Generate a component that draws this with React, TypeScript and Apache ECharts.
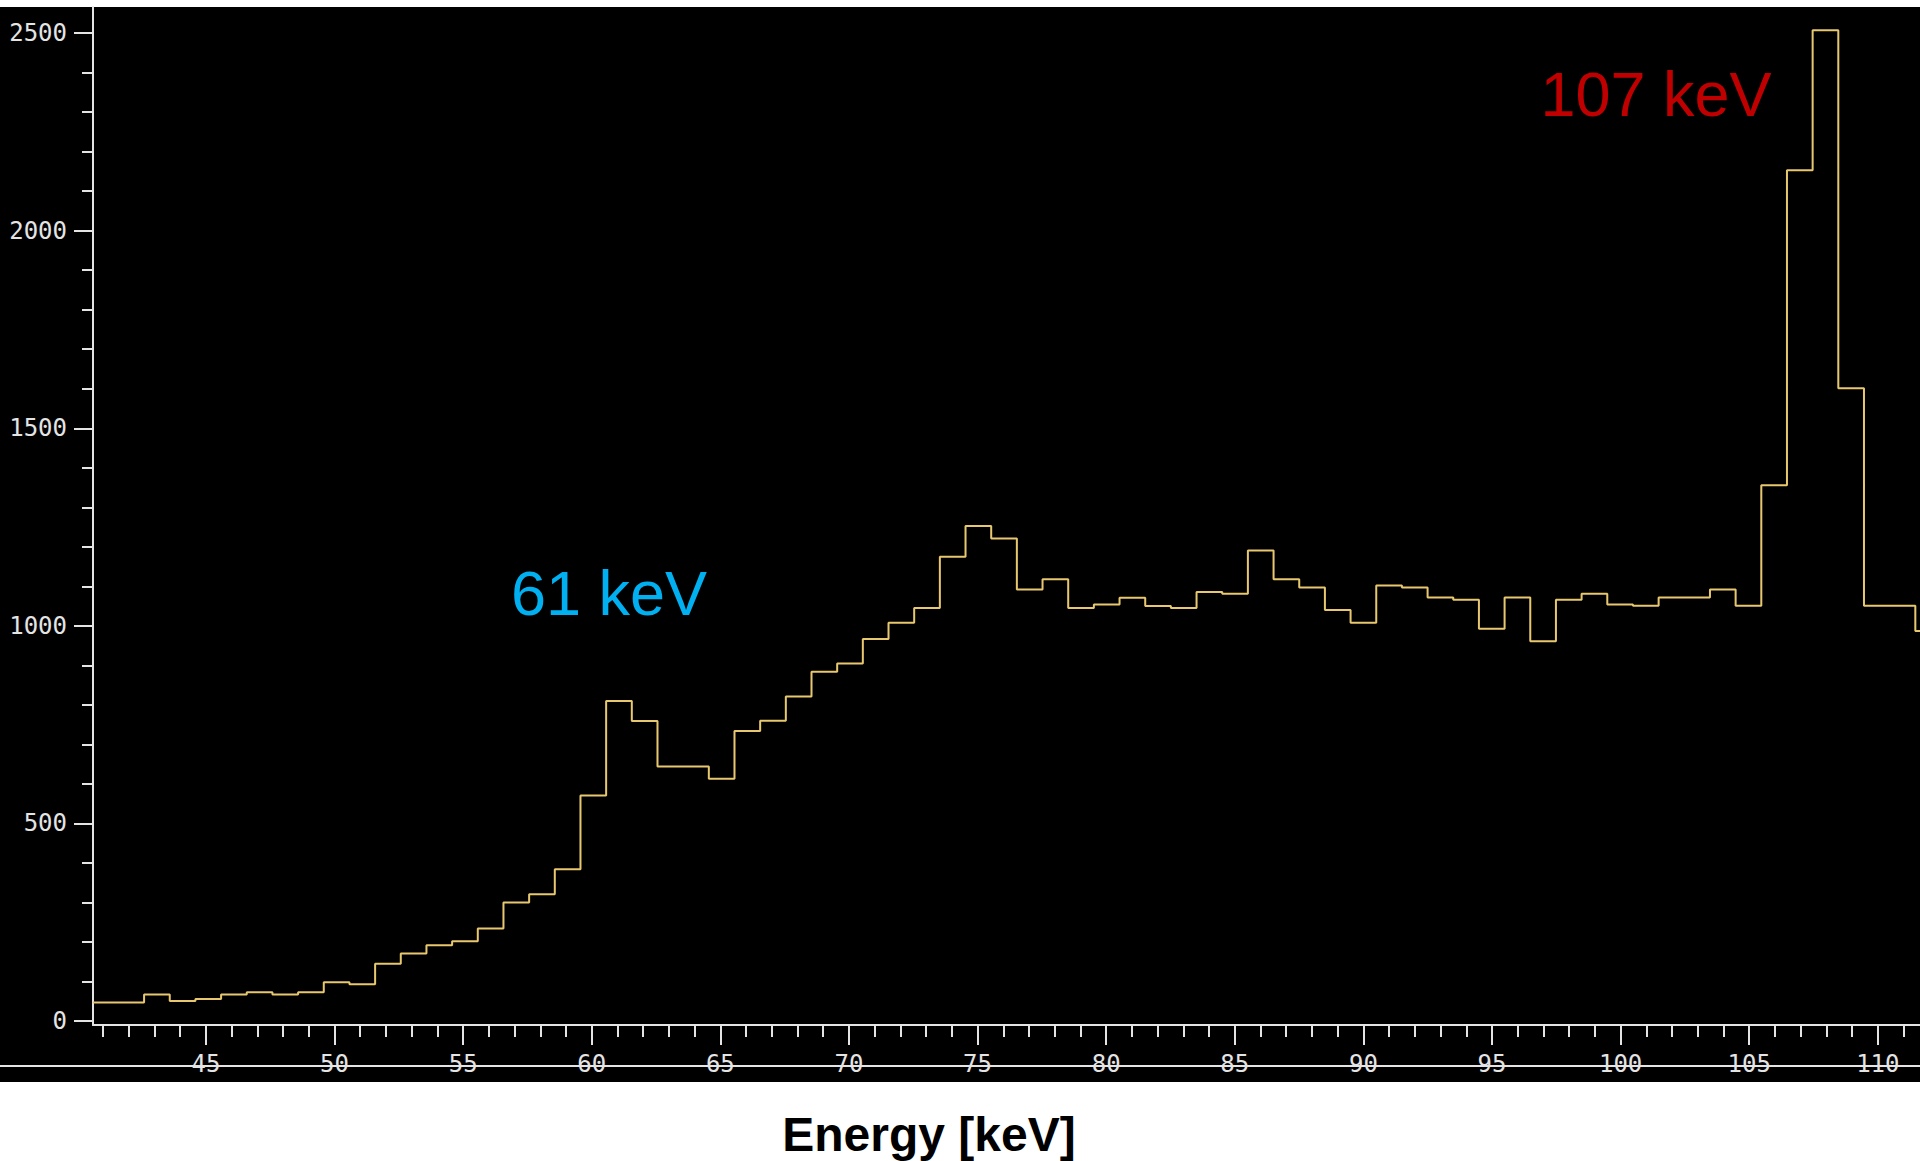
import { useEffect, useRef } from "react";
import * as echarts from "echarts";

// ---- data ----
const binStart = 40.6; // keV, lower edge of the first histogram bin
const binWidth = 0.998; // keV
const counts = [
  47, 47, 67, 51, 56, 67, 73, 67, 73, 98,
  93, 145, 171, 192, 202, 234, 300, 321, 384, 571,
  810, 759, 644, 644, 613, 734, 760, 821, 884, 905,
  967, 1008, 1045, 1175, 1253, 1221, 1092, 1118, 1045, 1054,
  1071, 1050, 1045, 1086, 1081, 1191, 1118, 1097, 1040, 1008,
  1102, 1097, 1072, 1066, 993, 1072, 961, 1066, 1081, 1054,
  1051, 1072, 1072, 1092, 1051, 1356, 2153, 2507, 1601, 1051,
  1051, 987,
];
const xRange = [40.61, 111.64];
const yRange = [-10, 2566];
const xMajorTicks = [45, 50, 55, 60, 65, 70, 75, 80, 85, 90, 95, 100, 105, 110];
const xMinorTicks = [
  41, 42, 43, 44, 45, 46, 47, 48, 49, 50, 51, 52, 53, 54, 55, 56, 57, 58, 59, 60,
  61, 62, 63, 64, 65, 66, 67, 68, 69, 70, 71, 72, 73, 74, 75, 76, 77, 78, 79, 80,
  81, 82, 83, 84, 85, 86, 87, 88, 89, 90, 91, 92, 93, 94, 95, 96, 97, 98, 99, 100,
  101, 102, 103, 104, 105, 106, 107, 108, 109, 110, 111,
];
const yMajorTicks = [0, 500, 1000, 1500, 2000, 2500];
const yMinorTicks = [
  0, 100, 200, 300, 400, 500, 600, 700, 800, 900, 1000, 1100, 1200, 1300, 1400,
  1500, 1600, 1700, 1800, 1900, 2000, 2100, 2200, 2300, 2400, 2500,
];
const peakLabels = ["61 keV", "107 keV"];
const xAxisTitle = "Energy [keV]";

export default function App() {
  const ref = useRef<HTMLDivElement>(null);

  useEffect(() => {
    if (!ref.current) return;
    const chart = echarts.init(ref.current, undefined, { renderer: "svg" });

    const histData: number[][] = counts.map((c, i) => [binStart + i * binWidth, c]);
    histData.push([binStart + counts.length * binWidth, counts[counts.length - 1]]);

    const axisColor = "#e4e4e4";
    const labelFont = {
      fontFamily: "DejaVu Sans Mono",
      fontSize: 24,
      color: axisColor,
      formatter: (v: number) => String(v),
    };
    const axisLineStyle = { color: axisColor, width: 2 };

    chart.setOption({
      animation: false,
      backgroundColor: "#ffffff",
      grid: {
        left: 93,
        right: 0,
        top: 7,
        bottom: 136,
        containLabel: false,
        outerBoundsMode: "none",
      },
      xAxis: [
        {
          type: "value",
          min: xRange[0],
          max: xRange[1],
          position: "bottom",
          axisLine: { show: true, onZero: false, lineStyle: axisLineStyle },
          axisTick: {
            show: true,
            customValues: xMajorTicks,
            length: 20,
            lineStyle: axisLineStyle,
          },
          axisLabel: { show: true, customValues: xMajorTicks, margin: 27, ...labelFont },
          splitLine: { show: false },
        },
        {
          type: "value",
          min: xRange[0],
          max: xRange[1],
          position: "bottom",
          axisLine: { show: false, onZero: false },
          axisTick: {
            show: true,
            customValues: xMinorTicks,
            length: 12,
            lineStyle: axisLineStyle,
          },
          axisLabel: { show: false },
          splitLine: { show: false },
        },
      ],
      yAxis: [
        {
          type: "value",
          min: yRange[0],
          max: yRange[1],
          position: "left",
          axisLine: { show: true, onZero: false, lineStyle: axisLineStyle },
          axisTick: {
            show: true,
            customValues: yMajorTicks,
            length: 19,
            lineStyle: axisLineStyle,
          },
          axisLabel: { show: true, customValues: yMajorTicks, margin: 26, ...labelFont },
          splitLine: { show: false },
        },
        {
          type: "value",
          min: yRange[0],
          max: yRange[1],
          position: "left",
          axisLine: { show: false, onZero: false },
          axisTick: {
            show: true,
            customValues: yMinorTicks,
            length: 11,
            lineStyle: axisLineStyle,
          },
          axisLabel: { show: false },
          splitLine: { show: false },
        },
      ],
      series: [
        {
          type: "line",
          xAxisIndex: 0,
          yAxisIndex: 0,
          step: "end",
          data: histData,
          symbol: "none",
          showSymbol: false,
          clip: true,
          lineStyle: { color: "#e8c86e", width: 2 },
          z: 5,
        },
      ],
      graphic: [
        {
          type: "rect",
          z: -100,
          silent: true,
          shape: { x: 0, y: 7, width: 1920, height: 1075 },
          style: { fill: "#000000" },
        },
        {
          type: "line",
          z: 1,
          silent: true,
          shape: { x1: 0, y1: 1066, x2: 1920, y2: 1066 },
          style: { stroke: axisColor, lineWidth: 2 },
        },
        {
          type: "text",
          z: 10,
          x: 609,
          y: 593,
          style: {
            text: peakLabels[0],
            fill: "#00b0f0",
            font: "63px 'Liberation Sans', Arial, sans-serif",
            textAlign: "center",
            textVerticalAlign: "middle",
          },
        },
        {
          type: "text",
          z: 10,
          x: 1656,
          y: 94,
          style: {
            text: peakLabels[1],
            fill: "#c00000",
            font: "63px 'Liberation Sans', Arial, sans-serif",
            textAlign: "center",
            textVerticalAlign: "middle",
          },
        },
        {
          type: "text",
          z: 10,
          x: 929,
          y: 1134,
          style: {
            text: xAxisTitle,
            fill: "#000000",
            font: "bold 48px 'Liberation Sans', Arial, sans-serif",
            textAlign: "center",
            textVerticalAlign: "middle",
          },
        },
      ],
    });

    return () => {
      chart.dispose();
    };
  }, []);

  return (
    <div
      ref={ref}
      style={{ position: "absolute", left: 0, top: 0, width: 1920, height: 1161 }}
    />
  );
}
